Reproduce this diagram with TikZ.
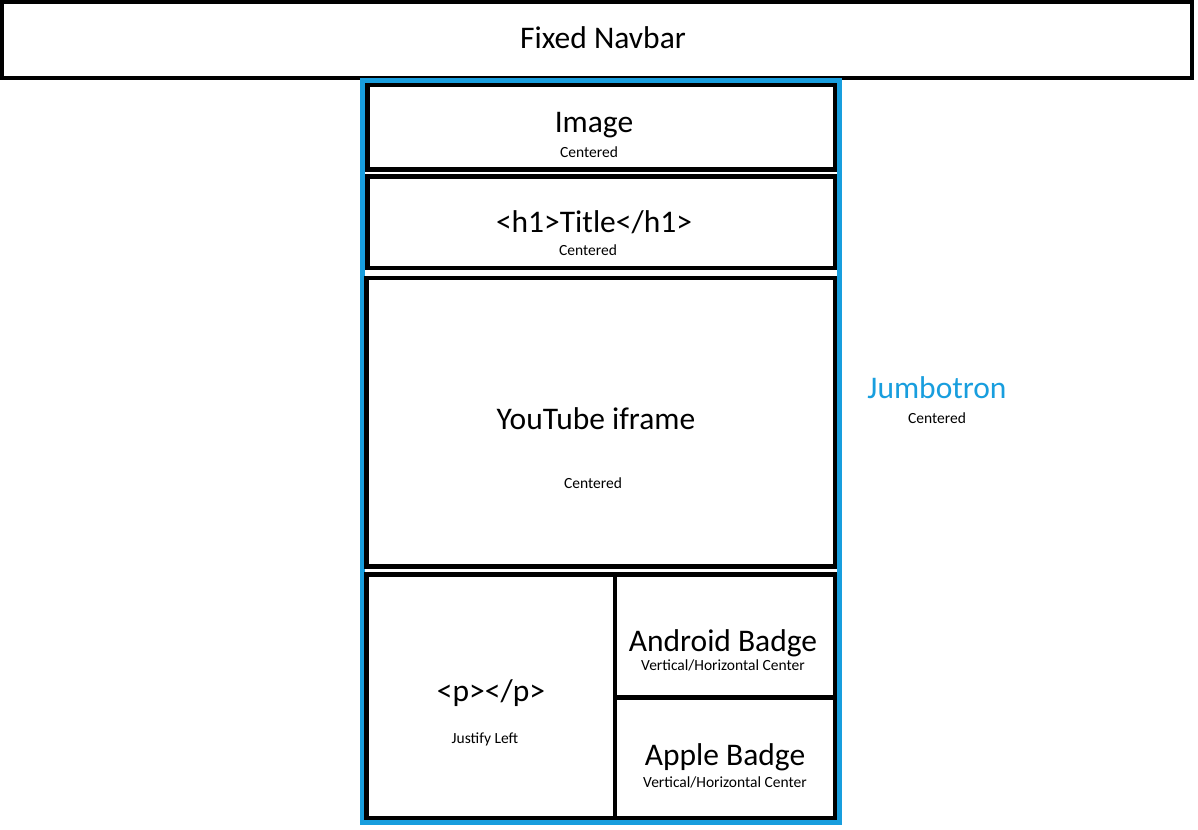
\documentclass[tikz,border=0pt]{standalone}
\usepackage{fontspec}
\setmainfont{Carlito}
\definecolor{jblue}{RGB}{24,158,222}
\begin{document}
\begin{tikzpicture}[x=1pt,y=-1pt,
  bigtext/.style={anchor=base,inner sep=0pt,font=\fontsize{31.5}{36}\selectfont},
  smalltext/.style={anchor=base,inner sep=0pt,font=\fontsize{15.5}{18}\selectfont},
  navbox/.style={draw=black,line width=4pt},
  jumbobox/.style={draw=jblue,line width=5pt},
  innerbox/.style={draw=black,line width=4.5pt}]
\useasboundingbox[fill=white] (0,0) rectangle (1198,829);
% navbar
\draw[navbox] (2,2) rectangle (1192,78);
\node[bigtext] (navlbl) at (603,49) {Fixed Navbar};
% jumbotron
\draw[jumbobox] (362.5,81) rectangle (839.5,822.5);
\node[bigtext,text=jblue] (jlbl) at (937,398) {Jumbotron};
\node[smalltext] (jsub) at (937,423) {Centered};
% image
\draw[innerbox] (367.5,85) rectangle (835,169.5);
\node[bigtext] (imglbl) at (594,133) {Image};
\node[smalltext] (imgsub) at (589,158) {Centered};
% title
\draw[innerbox] (367.5,176.5) rectangle (835,268);
\node[bigtext] (ttllbl) at (594,232) {<h1>Title</h1>};
\node[smalltext] (ttlsub) at (588,255) {Centered};
% youtube
\draw[innerbox] (366.5,278) rectangle (835,566.5);
\node[bigtext] (ytlbl) at (596,429) {YouTube iframe};
\node[smalltext] (ytsub) at (593,488) {Centered};
% bottom row
\draw[innerbox] (366.5,574.5) rectangle (835,818);
\coordinate (divtop) at (615,574.5);
\coordinate (divbot) at (615,818);
\coordinate (hl) at (615,697.5);
\coordinate (hr) at (835,697.5);
\draw[innerbox] (divtop) -- (divbot);
\draw[innerbox] (hl) -- (hr);
\node[bigtext] (plbl) at (491,701) {<p></p>};
\node[smalltext] (psub) at (485,743) {Justify Left};
\node[bigtext] (andlbl) at (723,651) {Android Badge};
\node[smalltext] (andsub) at (723,670) {Vertical/Horizontal Center};
\node[bigtext] (applbl) at (725,765) {Apple Badge};
\node[smalltext] (appsub) at (725,787) {Vertical/Horizontal Center};
\end{tikzpicture}
\end{document}
